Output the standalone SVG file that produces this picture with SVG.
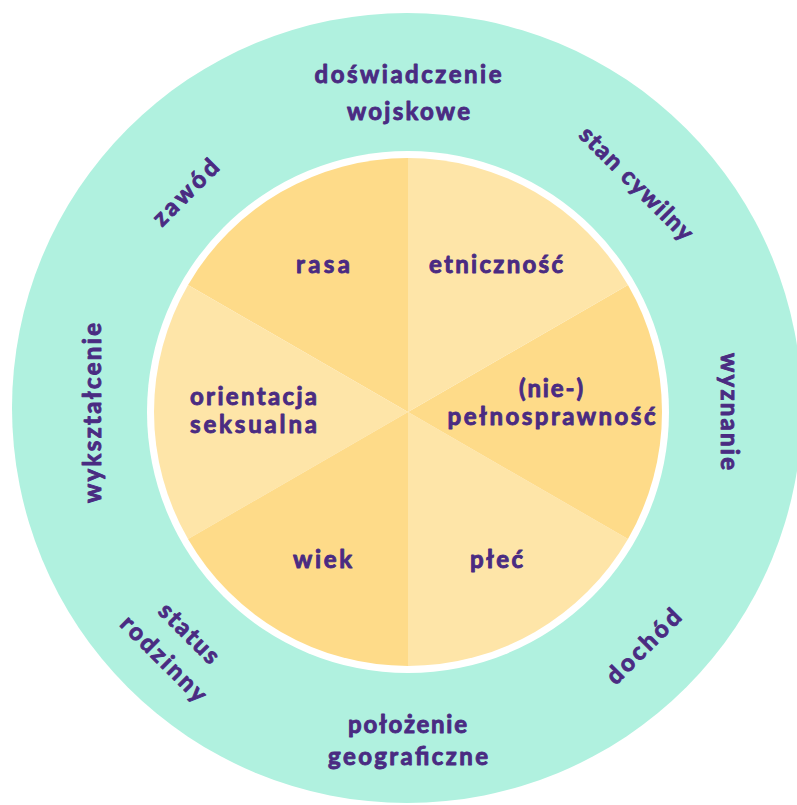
<svg xmlns="http://www.w3.org/2000/svg" width="797" height="805" viewBox="0 0 797 805">
<style>
  .lbl { font-family: "Lato", "Open Sans", sans-serif; font-weight: 700; font-size: 24px; fill: #4A2B82; stroke: #4A2B82; stroke-width: 0.9px; stroke-linejoin: round; text-anchor: middle; }
  .dark { fill: #FEDB89; }
  .light { fill: #FEE5A8; }
  .ring { fill: #B0F1DF; }
</style>
<rect width="797" height="805" fill="#FFFFFF"/>
<g id="outer-ring">
  <circle class="ring" cx="407" cy="408" r="395"/>
  <circle cx="408" cy="412" r="261" fill="#FFFFFF"/>
</g>
<g id="inner-wheel">
  <g id="sector-rasa">
    <path class="dark" d="M408,412 L408,158 A254,254 0 0 0 188.03,285 Z"/>
    <text class="lbl" x="323" y="273" textLength="54" lengthAdjust="spacing">rasa</text>
  </g>
  <g id="sector-orientacja">
    <path class="light" d="M408,412 L188.03,285 A254,254 0 0 0 188.03,539 Z"/>
    <text class="lbl" x="253.5" y="405" textLength="127" lengthAdjust="spacing">orientacja</text>
    <text class="lbl" x="253.5" y="433" textLength="127" lengthAdjust="spacing">seksualna</text>
  </g>
  <g id="sector-wiek">
    <path class="dark" d="M408,412 L188.03,539 A254,254 0 0 0 408,666 Z"/>
    <text class="lbl" x="322.5" y="568" textLength="59" lengthAdjust="spacing">wiek</text>
  </g>
  <g id="sector-plec">
    <path class="light" d="M408,412 L408,666 A254,254 0 0 0 627.97,539 Z"/>
    <text class="lbl" x="496.5" y="568" textLength="53" lengthAdjust="spacing">płeć</text>
  </g>
  <g id="sector-pelnosprawnosc">
    <path class="dark" d="M408,412 L627.97,539 A254,254 0 0 0 627.97,285 Z"/>
    <text class="lbl" x="551" y="397" textLength="64" lengthAdjust="spacing">(nie-)</text>
    <text class="lbl" x="551.5" y="425" textLength="208" lengthAdjust="spacing">pełnosprawność</text>
  </g>
  <g id="sector-etnicznosc">
    <path class="light" d="M408,412 L627.97,285 A254,254 0 0 0 408,158 Z"/>
    <text class="lbl" x="496" y="273" textLength="134" lengthAdjust="spacing">etniczność</text>
  </g>
</g>
<g id="connectors"></g>
<g id="outer-labels">
  <g id="label-doswiadczenie">
    <text class="lbl" x="408" y="83" textLength="187" lengthAdjust="spacing">doświadczenie</text>
    <text class="lbl" x="408.5" y="120" textLength="123" lengthAdjust="spacing">wojskowe</text>
  </g>
  <g id="label-stan-cywilny" transform="translate(635,185) rotate(45)">
    <text class="lbl" x="0" y="6" textLength="150" lengthAdjust="spacing">stan cywilny</text>
  </g>
  <g id="label-wyznanie" transform="translate(727,411.5) rotate(90)">
    <text class="lbl" x="0" y="6" textLength="117" lengthAdjust="spacing">wyznanie</text>
  </g>
  <g id="label-dochod" transform="translate(645,648) rotate(-45)">
    <text class="lbl" x="0" y="6" textLength="95" lengthAdjust="spacing">dochód</text>
  </g>
  <g id="label-polozenie">
    <text class="lbl" x="407.5" y="733" textLength="119" lengthAdjust="spacing">położenie</text>
    <text class="lbl" x="408" y="765" textLength="160" lengthAdjust="spacing">geograficzne</text>
  </g>
  <g id="label-status" transform="translate(175,647.5) rotate(45)">
    <text class="lbl" x="0" y="-12" textLength="75" lengthAdjust="spacing">status</text>
    <text class="lbl" x="0" y="24" textLength="111" lengthAdjust="spacing">rodzinny</text>
  </g>
  <g id="label-wyksztalcenie" transform="translate(95,413) rotate(-90)">
    <text class="lbl" x="0" y="6" textLength="180" lengthAdjust="spacing">wykształcenie</text>
  </g>
  <g id="label-zawod" transform="translate(187,194) rotate(-45)">
    <text class="lbl" x="0" y="6" textLength="83" lengthAdjust="spacing">zawód</text>
  </g>
</g>
</svg>
